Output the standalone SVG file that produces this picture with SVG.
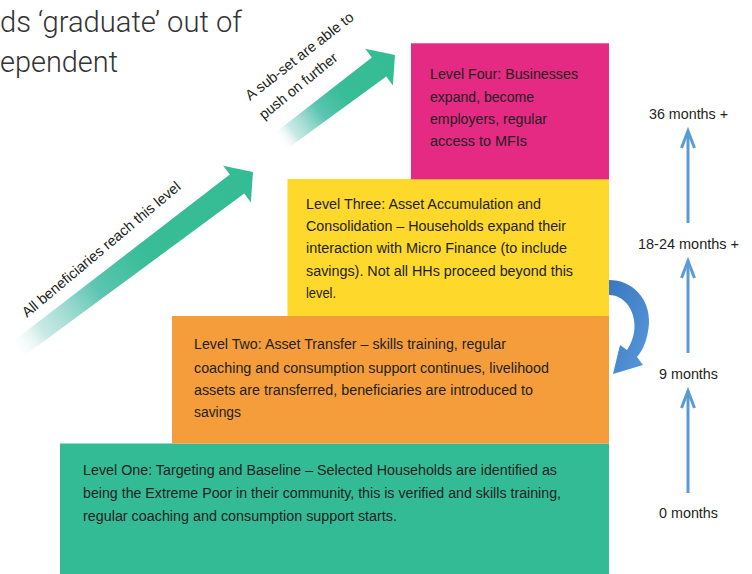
<svg xmlns="http://www.w3.org/2000/svg" width="752" height="574" viewBox="0 0 752 574">
<style>
.box-text{font-family:"Liberation Sans",Arial,sans-serif;font-size:15.5px;fill:#231F20}
.time{font-family:"Liberation Sans",Arial,sans-serif;font-size:15px;fill:#231F20;text-anchor:middle}
.diag{font-family:"Liberation Sans",Arial,sans-serif;font-size:14.5px;fill:#231F20}
.head{font-family:Roboto,"Liberation Sans",sans-serif;font-weight:300;font-size:30px;fill:#333333}
.tl{fill:none;stroke:#5B9BD5;stroke-width:3}
</style>
<defs>
<linearGradient id="tealFade" x1="0" y1="0" x2="1" y2="0">
<stop offset="0" stop-color="#ffffff" stop-opacity="0"/>
<stop offset="0.12" stop-color="#a6dbd6" stop-opacity="0.6"/>
<stop offset="0.35" stop-color="#5cc5b1"/>
<stop offset="0.55" stop-color="#38bd97"/>
<stop offset="1" stop-color="#34bc94"/>
</linearGradient>
<linearGradient id="blueCurve" x1="0" y1="0" x2="1" y2="1">
<stop offset="0" stop-color="#3a78c0"/>
<stop offset="0.6" stop-color="#4c8bd0"/>
<stop offset="1" stop-color="#5b9bd8"/>
</linearGradient>
</defs>
<rect width="752" height="574" fill="#ffffff"/>

<g id="heading">
<text class="head" x="0" y="32" textLength="242" lengthAdjust="spacingAndGlyphs">ds ‘graduate’ out of</text>
<text class="head" x="0" y="72" textLength="118" lengthAdjust="spacingAndGlyphs">ependent</text>
</g>

<g id="level1">
<rect x="60" y="443.5" width="549" height="131" fill="#33BB96"/>
<text class="box-text" x="83" y="475" textLength="474" lengthAdjust="spacingAndGlyphs">Level One: Targeting and Baseline – Selected Households are identified as</text>
<text class="box-text" x="83" y="498" textLength="478" lengthAdjust="spacingAndGlyphs">being the Extreme Poor in their community, this is verified and skills training,</text>
<text class="box-text" x="83" y="521" textLength="314" lengthAdjust="spacingAndGlyphs">regular coaching and consumption support starts.</text>
</g>

<g id="level2">
<rect x="172" y="316" width="437" height="127.5" fill="#F59D3A"/>
<text class="box-text" x="194" y="349.3" textLength="312" lengthAdjust="spacingAndGlyphs">Level Two: Asset Transfer – skills training, regular</text>
<text class="box-text" x="194" y="372.5" textLength="355" lengthAdjust="spacingAndGlyphs">coaching and consumption support continues, livelihood</text>
<text class="box-text" x="194" y="394.5" textLength="339" lengthAdjust="spacingAndGlyphs">assets are transferred, beneficiaries are introduced to</text>
<text class="box-text" x="194" y="416.7" textLength="47" lengthAdjust="spacingAndGlyphs">savings</text>
</g>

<g id="level3">
<rect x="287.5" y="179" width="321.5" height="137" fill="#FED82B"/>
<text class="box-text" x="306" y="209" textLength="235" lengthAdjust="spacingAndGlyphs">Level Three: Asset Accumulation and</text>
<text class="box-text" x="306" y="231.2" textLength="260" lengthAdjust="spacingAndGlyphs">Consolidation – Households expand their</text>
<text class="box-text" x="306" y="253.4" textLength="261" lengthAdjust="spacingAndGlyphs">interaction with Micro Finance (to include</text>
<text class="box-text" x="306" y="275.6" textLength="267" lengthAdjust="spacingAndGlyphs">savings). Not all HHs proceed beyond this</text>
<text class="box-text" x="306" y="297.8" textLength="30" lengthAdjust="spacingAndGlyphs">level.</text>
</g>

<g id="level4">
<rect x="411" y="43.3" width="198" height="136" fill="#E52A84"/>
<text class="box-text" x="430" y="79.3" textLength="148" lengthAdjust="spacingAndGlyphs">Level Four: Businesses</text>
<text class="box-text" x="430" y="101.6" textLength="104" lengthAdjust="spacingAndGlyphs">expand, become</text>
<text class="box-text" x="430" y="123.9" textLength="117" lengthAdjust="spacingAndGlyphs">employers, regular</text>
<text class="box-text" x="430" y="146.2" textLength="97" lengthAdjust="spacingAndGlyphs">access to MFIs</text>
</g>

<g id="time-labels">
<text class="time" x="688.5" y="119.3" textLength="79" lengthAdjust="spacingAndGlyphs">36 months +</text>
<text class="time" x="688.5" y="249" textLength="101" lengthAdjust="spacingAndGlyphs">18-24 months +</text>
<text class="time" x="688.5" y="379" textLength="59" lengthAdjust="spacingAndGlyphs">9 months</text>
<text class="time" x="688.5" y="518" textLength="59" lengthAdjust="spacingAndGlyphs">0 months</text>
</g>

<g id="connectors">
<g id="arrow-all" transform="translate(253,172) rotate(-37)">
<polygon points="0,0 -20,-23 -20,-12 -300,-9 -300,9 -20,12 -20,23" fill="url(#tealFade)"/>
</g>
<g id="arrow-subset" transform="translate(395,55) rotate(-37)">
<polygon points="0,0 -20,-23 -20,-12 -145,-10 -145,10 -20,12 -20,23" fill="url(#tealFade)"/>
</g>
<path id="curve-arrow" d="M609,280 C632,280 650,298 649,323 C648,339 643,350 637,357 L643,365 L613,374 L620,345 L627,350 C632,342 636,332 634,320 C632,306 622,295 609,295 Z" fill="url(#blueCurve)"/>
<g id="timeline">
<line class="tl" x1="688" y1="223" x2="688" y2="132"/>
<polyline class="tl" points="681.5,148 688,131 694.5,148"/>
<line class="tl" x1="688" y1="353" x2="688" y2="262"/>
<polyline class="tl" points="681.5,278 688,261 694.5,278"/>
<line class="tl" x1="688" y1="493" x2="688" y2="392"/>
<polyline class="tl" points="681.5,408 688,391 694.5,408"/>
</g>
</g>

<g id="arrow-labels">
<text class="diag" transform="translate(27,318) rotate(-40)" textLength="202" lengthAdjust="spacingAndGlyphs">All beneficiaries reach this level</text>
<text class="diag" transform="translate(250,101) rotate(-38)" textLength="133" lengthAdjust="spacingAndGlyphs">A sub-set are able to</text>
<text class="diag" transform="translate(264,120) rotate(-39)" textLength="96" lengthAdjust="spacingAndGlyphs">push on further</text>
</g>
</svg>
